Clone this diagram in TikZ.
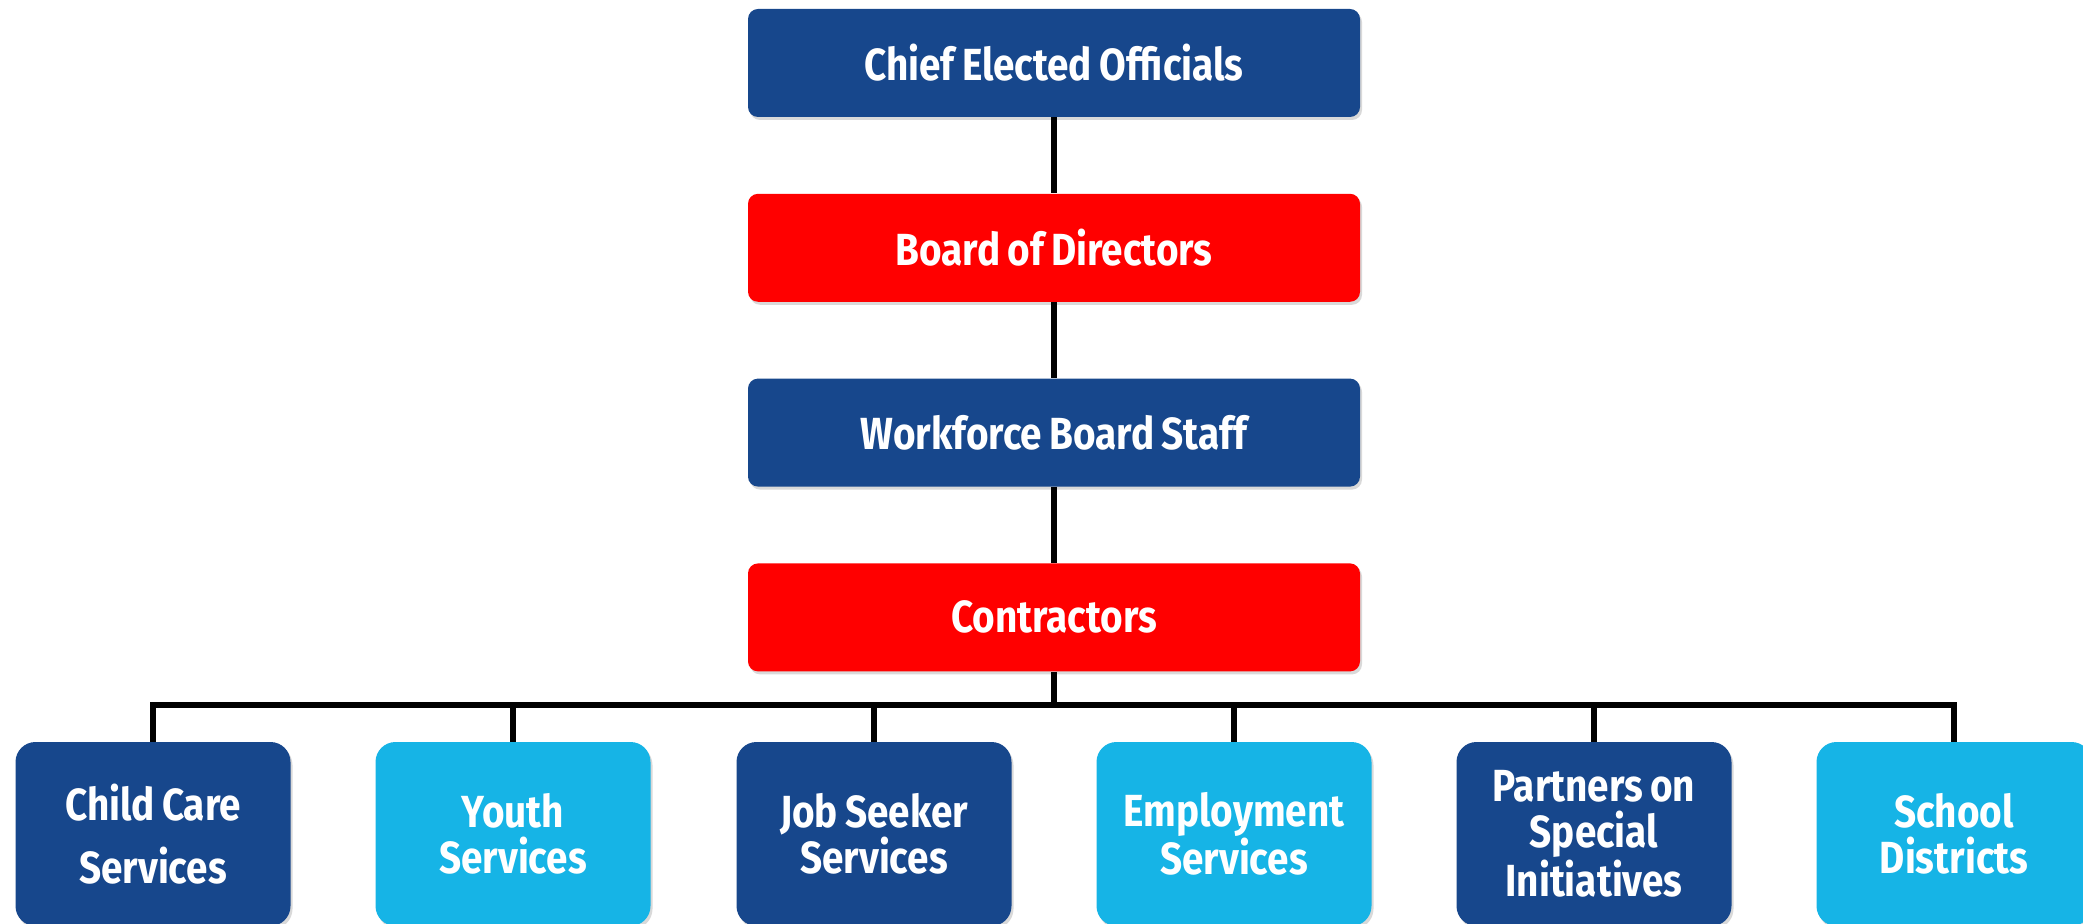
\documentclass[tikz,border=0pt]{standalone}
\usepackage{fontspec}
\setmainfont{Fira Sans}[FakeStretch=0.86,WordSpace=0.8]
\usetikzlibrary{positioning,shadows}
\definecolor{orgblue}{RGB}{23,71,140}
\definecolor{orgred}{RGB}{255,0,0}
\definecolor{orgcyan}{RGB}{22,180,230}
\tikzset{
  orgtext/.style={
    text=white,
    font=\fontsize{22.5}{23}\selectfont\bfseries
  },
  topbox/.style={
    orgtext,
    rectangle,
    rounded corners=5pt,
    minimum width=306pt,
    minimum height=54pt,
    drop shadow={shadow xshift=1pt, shadow yshift=-1.5pt, opacity=0.3}
  },
  unitbox/.style={
    orgtext,
    rectangle,
    rounded corners=10pt,
    minimum width=137.5pt,
    minimum height=92pt,
    align=center,
    drop shadow={shadow xshift=1pt, shadow yshift=-1.5pt, opacity=0.3}
  },
  link/.style={line width=2.6pt, black}
}

\begin{document}
\begin{tikzpicture}[x=0.5pt,y=-0.5pt]
\useasboundingbox (0,0) rectangle (2083,924);
\clip (0,0) rectangle (2083,924);

% top chain
\node[topbox, fill=orgblue] (ceo) at (1054,63) {Chief Elected Officials};
\node[topbox, fill=orgred, below=38pt of ceo] (board) {Board of Directors};
\node[topbox, fill=orgblue, below=38pt of board] (staff) {Workforce Board Staff};
\node[topbox, fill=orgred, below=38pt of staff] (contr) {Contractors};

\coordinate (bus) at (1054,705);

% service units
\node[unitbox, fill=orgblue] (child) at (153,834) {Child Care\\[8.5pt]Services};
\node[unitbox, fill=orgcyan] (youth) at (513,834) {Youth\\Services};
\node[unitbox, fill=orgblue] (seeker) at (874,834) {Job Seeker\\Services};
\node[unitbox, fill=orgcyan] (employ) at (1234,834) {Employment\\Services};
\node[unitbox, fill=orgblue] (partner) at (1594,834) {Partners on\\Special\\Initiatives};
\node[unitbox, fill=orgcyan] (school) at (1954,834) {School\\Districts};

\draw[link] (ceo) -- (board);
\draw[link] (board) -- (staff);
\draw[link] (staff) -- (contr);
\draw[link] (contr) -- (bus);

\draw[link] (child.north) |- (bus) -| (school.north);
\draw[link] (youth.north) -- (youth.north |- bus);
\draw[link] (seeker.north) -- (seeker.north |- bus);
\draw[link] (employ.north) -- (employ.north |- bus);
\draw[link] (partner.north) -- (partner.north |- bus);
\end{tikzpicture}
\end{document}
